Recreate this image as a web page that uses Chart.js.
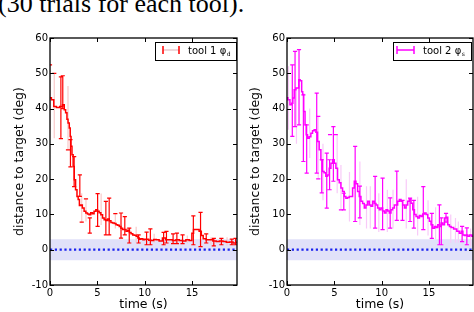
<!DOCTYPE html>
<html><head><meta charset="utf-8">
<script src="https://cdn.jsdelivr.net/npm/chart.js@4/dist/chart.umd.min.js"></script>
<style>
html,body{margin:0;padding:0;background:#fff;width:474px;height:312px;overflow:hidden;position:relative;}
#title{position:absolute;left:-2px;top:-8.8px;font-family:"Liberation Serif",serif;font-size:26px;line-height:26px;white-space:nowrap;color:#000;}
.c{position:absolute;top:0;}
</style></head><body>
<div id="title">(30 trials for each tool).</div>
<canvas id="c1" class="c" style="left:0" width="240" height="312"></canvas>
<canvas id="c2" class="c" style="left:240px" width="234" height="312"></canvas>
<script>
// ---------- data: tool 1 ----------
const t1Time = [0,0.3,0.5,0.85,1.2,1.45,1.56,1.74,1.84,1.97,2.1,2.17,2.27,2.37,2.52,2.6,2.8,2.9,3.05,3.16,3.33,3.5,3.7,3.87,4.05,4.2,4.4,4.56,4.75,4.93,5.1,5.28,5.46,5.64,5.8,6.0,6.17,6.35,6.52,6.7,6.88,7.06,7.23,7.4,7.58,7.76,7.94,8.12,8.3,8.47,8.65,8.83,9.0,9.2,9.36,9.5,9.7,9.93,10.07,10.3,10.55,10.8,11.1,11.35,11.7,12.05,12.4,12.77,13.1,13.5,13.8,14.2,14.5,14.9,15.07,15.25,15.6,15.9,16.06,16.3,16.67,17.0,17.4,17.7,18.1,18.44,18.8,19.15,19.5,19.75];
const t1Dist = [43.1,42.5,40.6,40.3,40.6,41.1,39.7,38.8,37,35.9,34.5,32.1,29.3,26.9,23.6,19.8,17,15.1,14.2,12.5,12.7,11.8,10.9,10.4,10.1,9.9,10.5,10.2,10.9,11.3,10.9,10.5,9.9,9.0,8.5,8.3,8.7,8.2,7.7,7.6,7.4,7.1,6.9,6.6,6.1,5.7,5.7,5.2,5.5,4.9,4.5,4.2,4.1,3.8,3.3,3.0,3.1,2.8,3.0,3.0,2.7,2.6,2.9,2.8,2.5,3.3,2.8,2.8,2.6,2.8,2.6,2.5,2.8,2.6,4.7,5.7,5.7,5.2,4.0,3.1,2.8,2.8,2.5,2.3,2.5,2.3,2.1,2.2,1.9,2.1];
// bright error bars
const t1ErrT  = [1.15,1.35,2.16,2.55,3.15,4.2,5.03,5.9,6.25,7.5,7.9,8.37,9.36,10.2,10.6,12.0,12.3,13.0,13.4,14.0,15.14,15.9,16.5,17.3,18.1,19.2,19.6];
const t1ErrLo = [31.5,40,23.5,17.9,15.1,4.7,6.6,4.2,4.2,3.3,4.2,1.9,1.9,1.4,1.4,1.4,1.9,1.7,1.7,1.7,1.4,0.9,1.9,1.1,1.4,1.4,1.4];
const t1ErrHi = [49,49.3,31.2,26.4,21.2,9.0,15.9,13.7,14.6,10.4,9.4,6.1,4.2,5.0,5.9,4.9,5.2,4.5,4.7,4.2,9.6,10.6,4.5,3.2,3.2,3.0,3.2];
// faint error bars
const t1FaintT  = [0.0,0.45,1.9,3.35,3.8,5.4,6.9,9.1,11.0,14.5,17.0,18.7];
const t1FaintLo = [34,31.6,28.3,7.8,8,7,6,2,2,1.8,1.5,1.2];
const t1FaintHi = [52.4,50,46.4,16,14.4,15.9,10.2,6.5,4.5,4,3.5,3.5];
// lone visible caps
const t1CapT = [0,0.45,1.9,3.35,3.8,6.9];
const t1CapV = [52.4,50,28.3,7.8,14.4,10.2];

// ---------- data: tool 2 ----------
const t2Time = [0,0.2,0.42,0.56,0.67,0.85,1.03,1.2,1.3,1.48,1.62,1.7,1.83,1.98,2.08,2.26,2.43,2.61,2.78,2.96,3.14,3.31,3.49,3.67,3.84,4.0,4.2,4.37,4.55,4.73,4.9,5.08,5.25,5.43,5.61,5.78,5.96,6.14,6.3,6.49,6.67,6.84,7.02,7.2,7.37,7.55,7.72,7.9,8.08,8.25,8.43,8.61,8.78,8.96,9.13,9.31,9.49,9.66,9.84,10.0,10.2,10.37,10.55,10.72,10.9,11.07,11.25,11.43,11.6,11.78,11.96,12.13,12.31,12.5,12.66,12.84,13.0,13.2,13.37,13.55,13.72,13.9,14.08,14.25,14.43,14.6,14.78,14.96,15.13,15.3,15.5,15.67,15.84,16.02,16.2,16.37,16.55,16.72,16.9,17.07,17.25,17.43,17.78,18.1,18.3,18.5,18.66,18.84,19.0,19.2,19.4,19.65];
const t2Dist = [43.1,42.5,41.1,41.5,43,45.3,45.8,45.8,48.2,47.9,44.8,44,39.2,35.4,32.6,31.6,32,33,33.7,34,33.3,30.7,28.3,25.5,22.2,21.8,20.8,21.2,23.1,24.5,25.5,24.5,23.1,19.8,19,17.5,16.5,15.1,14.6,14.8,15.1,15.1,17.5,19.4,18.7,16.5,15.1,13.7,13.1,11.8,12.7,13.7,12.7,12.3,13.7,13.1,12.7,11.8,11.3,11.8,11.0,10.4,11.3,11.0,10.4,11.3,11.8,12.7,12.7,13.7,14.2,13.7,12.7,11.8,12.7,13.7,14.4,13.2,11.3,10.0,9.4,9.0,9.7,9.4,10.1,10.4,10.0,9.0,8.1,7.1,6.1,6.6,6.3,7.1,6.6,7.6,7.1,9.0,9.2,7.1,6.6,6.3,5.9,5.2,4.7,5.2,4.2,4.0,4.2,3.8,4.2,3.8];
const t2ErrT  = [0.56,0.85,1.27,1.73,2.08,3.14,3.67,4.2,4.5,4.9,6.0,7.2,7.7,9.31,10.1,10.9,11.6,12.2,13.0,13.4,14.4,15.3,16.1,16.3,16.8,18.5,19.0];
const t2ErrLo = [32.1,34.9,35.4,25.0,21.7,21.7,16.1,11.8,17,19.4,11.3,8.0,9,6.1,5.7,6.1,8.3,8.3,8.0,6.1,5.7,3.2,1.4,1.4,7.8,2.3,1.4];
const t2ErrHi = [52.4,56.2,56.7,43.9,35.4,44.4,25.5,27.4,25.5,34.9,16,29.3,18,20.8,20.3,14.7,22.3,14,14.6,14,17.9,10.3,12.7,9.0,10.3,6.6,6.2];
const t2FaintT  = [0.15,1.0,2.4,3.3,3.8,5.3,5.7,6.6,7.7,8.4,8.8,9.7,10.6,11.2,12.6,13.8,14.9,15.7,17.3,17.8,18.1,19.4];
const t2FaintLo = [34,30,26,20.1,14,16,11.3,8,7,6,6,5,5,6,6,4,4,3,2,2,2,1];
const t2FaintHi = [52,46,40,37.8,30,32.6,24,22,25,18,18,16,17,17,20,15,14,12,10,9,8,6];
const t2CapT = [3.3,3.3,4.55,5.15,5.7];
const t2CapV = [37.8,20.1,32.6,32.6,11.3];

// axis ticks
const xTickStep = 5;
const yTickStep = 10;

function pts(T, V){ return T.map((t,i)=>({x:t,y:V[i]})); }
function bars(T, LO, HI, cap){
  const p=[];
  for(let i=0;i<T.length;i++){
    p.push({x:T[i],y:LO[i]},{x:T[i],y:HI[i]},{x:T[i],y:null});
    if(cap){
      p.push({x:T[i]-cap,y:LO[i]},{x:T[i]+cap,y:LO[i]},{x:T[i],y:null});
      p.push({x:T[i]-cap,y:HI[i]},{x:T[i]+cap,y:HI[i]},{x:T[i],y:null});
    }
  }
  return p;
}
function caps(T, V, cap){
  const p=[];
  for(let i=0;i<T.length;i++) p.push({x:T[i]-cap,y:V[i]},{x:T[i]+cap,y:V[i]},{x:T[i],y:null});
  return p;
}

function frame(cfg){
  return {
    id:'frame'+cfg.id,
    afterDraw(chart){
      const {ctx, chartArea:a, scales:{x,y}} = chart;
      ctx.save();
      ctx.strokeStyle='#000'; ctx.lineWidth=1.3;
      ctx.strokeRect(a.left, a.top, a.right-a.left, a.bottom-a.top);
      ctx.lineWidth=1;
      ctx.beginPath();
      y.ticks.forEach(tk=>{const py=Math.round(y.getPixelForValue(tk.value))+0.5;
        ctx.moveTo(a.left,py);ctx.lineTo(a.left+4,py);ctx.moveTo(a.right,py);ctx.lineTo(a.right-4,py);});
      x.ticks.forEach(tk=>{const px=Math.round(x.getPixelForValue(tk.value))+0.5;
        ctx.moveTo(px,a.bottom);ctx.lineTo(px,a.bottom-4);ctx.moveTo(px,a.top);ctx.lineTo(px,a.top+4);});
      ctx.stroke();
      // legend
      const L=cfg.legend;
      ctx.fillStyle='#fff';
      ctx.fillRect(L.x0,L.y0,L.x1-L.x0,L.y1-L.y0);
      ctx.strokeStyle='#000'; ctx.lineWidth=1;
      ctx.strokeRect(L.x0+0.5,L.y0+0.5,L.x1-L.x0,L.y1-L.y0);
      ctx.strokeStyle=cfg.legendLine; ctx.lineWidth=1.5;
      ctx.beginPath(); ctx.moveTo(L.m0,L.my); ctx.lineTo(L.m1,L.my); ctx.stroke();
      ctx.strokeStyle=cfg.color; ctx.lineWidth=1.5;
      ctx.beginPath();
      ctx.moveTo(L.m0,L.my-4);ctx.lineTo(L.m0,L.my+4);
      ctx.moveTo(L.m1,L.my-4);ctx.lineTo(L.m1,L.my+4);
      ctx.stroke();
      ctx.fillStyle='#000'; ctx.textBaseline='alphabetic'; ctx.textAlign='left';
      ctx.font='10px "DejaVu Sans"';
      ctx.fillText(cfg.label, L.tx, L.my+4);
      const w=ctx.measureText(cfg.label).width;
      ctx.font='6px "DejaVu Sans"';
      ctx.fillText(cfg.sub, L.tx+w+0.5, L.my+6);
      ctx.restore();
    }
  };
}

function make(cfg){
  const cap=0.22;
  const datasets=[
    {data:pts(cfg.T,cfg.V), borderColor:cfg.color, borderWidth:1.5, stepped:'middle', pointRadius:0, order:0},
    {data:bars(cfg.eT,cfg.eLo,cfg.eHi,cap), borderColor:cfg.color, borderWidth:1.2, pointRadius:0, spanGaps:false, order:1},
    {data:caps(cfg.cT,cfg.cV,cap), borderColor:cfg.color, borderWidth:1.2, pointRadius:0, spanGaps:false, order:2},
    {data:bars(cfg.fT,cfg.fLo,cfg.fHi,0), borderColor:cfg.faint, borderWidth:1.2, pointRadius:0, spanGaps:false, order:3},
    {data:[{x:0,y:0},{x:cfg.xMax,y:0}], borderColor:'#1a22ee', borderWidth:2.2, borderDash:[2.2,2.6], pointRadius:0, order:4},
    {data:[{x:0,y:3},{x:cfg.xMax,y:3}], borderWidth:0, borderColor:'rgba(0,0,0,0)', backgroundColor:'#e1e1f9', fill:{value:-3}, pointRadius:0, order:5}
  ];
  return new Chart(document.getElementById(cfg.id), {
    type:'line',
    data:{datasets},
    options:{
      responsive:false, animation:false, devicePixelRatio:1,
      layout:{padding:{top:38,right:cfg.padRight,left:0,bottom:0}},
      plugins:{legend:{display:false},tooltip:{enabled:false}},
      scales:{
        x:{type:'linear',min:0,max:cfg.xMax,
          ticks:{stepSize:xTickStep,includeBounds:false,color:'#000',font:{family:'DejaVu Sans',size:10},padding:2,maxRotation:0},
          grid:{drawOnChartArea:false,drawTicks:false},border:{display:false},
          title:{display:true,text:'time (s)',color:'#000',font:{family:'DejaVu Sans',size:12.5},padding:{top:0,bottom:0}},
          afterFit(s){s.height=27;}},
        y:{type:'linear',min:-10,max:60,
          ticks:{stepSize:yTickStep,includeBounds:false,color:'#000',font:{family:'DejaVu Sans',size:10},padding:2},
          grid:{drawOnChartArea:false,drawTicks:false},border:{display:false},
          title:{display:true,text:'distance to target (deg)',color:'#000',font:{family:'DejaVu Sans',size:12.5},padding:{top:cfg.titlePad,bottom:0}},
          afterFit(s){s.width=cfg.yWidth;}}
      }
    },
    plugins:[frame(cfg)]
  });
}

make({id:'c1',T:t1Time,V:t1Dist,eT:t1ErrT,eLo:t1ErrLo,eHi:t1ErrHi,fT:t1FaintT,fLo:t1FaintLo,fHi:t1FaintHi,cT:t1CapT,cV:t1CapV,
  color:'#ff0000',faint:'#f8caca',legendLine:'#e8c8cc',xMax:19.75,yWidth:50,padRight:3,titlePad:12.5,
  label:'tool 1 \u03c6',sub:'d',
  legend:{x0:155,y0:42,x1:236,y1:60,m0:163,m1:179,my:50,tx:188}});
make({id:'c2',T:t2Time,V:t2Dist,eT:t2ErrT,eLo:t2ErrLo,eHi:t2ErrHi,fT:t2FaintT,fLo:t2FaintLo,fHi:t2FaintHi,cT:t2CapT,cV:t2CapV,
  color:'#ff00ff',faint:'#f8caf8',legendLine:'#ff00ff',xMax:19.65,yWidth:47,padRight:1,titlePad:8.5,
  label:'tool 2 \u03c6',sub:'s',
  legend:{x0:153,y0:42,x1:231,y1:60,m0:157,m1:174,my:50,tx:183}});
</script>
</body></html>
